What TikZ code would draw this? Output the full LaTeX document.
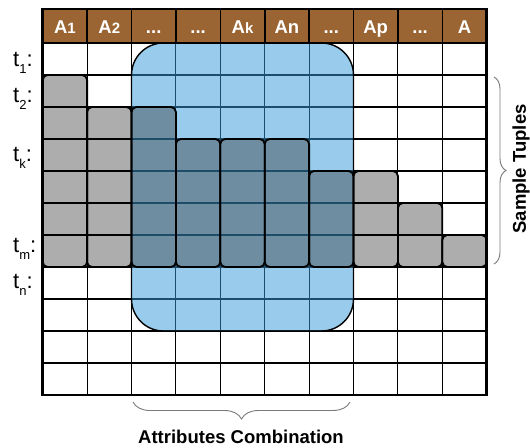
\documentclass[tikz,border=0pt]{standalone}
\usepackage{fontspec}
\setmainfont{Liberation Sans}
\usetikzlibrary{decorations.pathreplacing}
\definecolor{hdr}{HTML}{9A6433}
\definecolor{lblue}{HTML}{99CCEC}
\definecolor{dbline}{HTML}{1E4D6B}
\definecolor{barg}{HTML}{ADADAD}
\definecolor{bard}{HTML}{6F8DA0}
\definecolor{brc}{HTML}{7A7A7A}
\newcommand\smchar[1]{{\fontsize{15bp}{15bp}\selectfont #1}}
\newcommand\tsub[1]{t\raisebox{-7bp}{\fontsize{13bp}{13bp}\selectfont #1}:}
\begin{document}
\begin{tikzpicture}[x=1bp,y=-1bp,
  gridline/.style={line width=1.1bp},
  barbox/.style={rounded corners=5bp},
  hdrtxt/.style={text=white, font=\fontsize{18.5bp}{18.5bp}\selectfont\bfseries, inner sep=0, anchor=base},
  rowlbl/.style={anchor=base west, inner sep=0, font=\fontsize{22bp}{22bp}\selectfont},
  bracestyle/.style={draw=brc, line width=0.9bp, decorate},
  biglbl/.style={font=\fontsize{18.5bp}{18.5bp}\selectfont\bfseries, inner sep=0}]
\useasboundingbox (0,0) rectangle (530,448);
\fill[white] (0,0) rectangle (530,448);
% blue region
\fill[lblue, rounded corners=32bp] (131.5,43) rectangle (353.5,331);
% bar fills
\foreach \c/\t/\f in {1/75/barg,2/107/barg,3/107/bard,4/139/bard,5/139/bard,6/139/bard,7/171/bard,8/171/barg,9/203/barg,10/235/barg}{
  \pgfmathsetmacro\xl{42.7+44.4*(\c-1)}
  \pgfmathsetmacro\xr{42.7+44.4*\c}
  \fill[\f, barbox] (\xl,\t) rectangle (\xr,267);
}
% grid lines
\foreach \j in {1,...,10}{
  \pgfmathsetmacro\yy{43+32*\j}
  \draw[gridline] (42.7,\yy) -- (486.7,\yy);
}
\foreach \i in {1,...,9}{
  \pgfmathsetmacro\xx{42.7+44.4*\i}
  \draw[gridline] (\xx,43) -- (\xx,395);
}
\begin{scope}
  \clip[rounded corners=32bp] (131.5,43) rectangle (353.5,331);
  \foreach \j in {1,...,10}{
    \pgfmathsetmacro\yy{43+32*\j}
    \draw[gridline, dbline] (42.7,\yy) -- (486.7,\yy);
  }
  \foreach \i in {1,...,9}{
    \pgfmathsetmacro\xx{42.7+44.4*\i}
    \draw[gridline, dbline] (\xx,43) -- (\xx,395);
  }
\end{scope}
\draw[line width=1.4bp, rounded corners=32bp] (131.5,43) rectangle (353.5,331);
% bar borders
\foreach \c/\t in {1/75,2/107,3/107,4/139,5/139,6/139,7/171,8/171,9/203,10/235}{
  \pgfmathsetmacro\xl{42.7+44.4*(\c-1)}
  \pgfmathsetmacro\xr{42.7+44.4*\c}
  \draw[line width=1.8bp, barbox] (\xl,\t) rectangle (\xr,267);
}
% header
\fill[hdr] (42.7,9) rectangle (486.7,43);
\foreach \i in {1,...,9}{
  \pgfmathsetmacro\xx{42.7+44.4*\i}
  \draw[line width=1.6bp] (\xx,9) -- (\xx,43);
}
\draw[line width=2bp] (42.7,43) -- (486.7,43);
\draw[line width=2.6bp] (42.7,9) rectangle (486.7,395);
\foreach \c/\txt in {1/{A\smchar{1}},2/{A\smchar{2}},3/{...},4/{...},5/{A\smchar{k}},6/{An},7/{...},8/{Ap},9/{...},10/{A}}{
  \pgfmathsetmacro\xc{42.7+44.4*(\c-0.5)}
  \node[hdrtxt] (h\c) at (\xc,33.5) {\txt};
}
% row labels
\node[rowlbl] (t1) at (13,67) {\tsub{1}};
\node[rowlbl] (t2) at (13,103) {\tsub{2}};
\node[rowlbl] (tk) at (13,162) {\tsub{k}};
\node[rowlbl] (tm) at (13,253) {\tsub{m}};
\node[rowlbl] (tn) at (13,288) {\tsub{n}};
% braces
\coordinate (rb1) at (494,77);
\coordinate (rb2) at (494,264);
\draw[bracestyle, decoration={brace, amplitude=12bp}] (rb1) -- (rb2);
\node[biglbl, rotate=90] (st) at (521,169) {Sample Tuples};
\coordinate (bb1) at (350,402);
\coordinate (bb2) at (133,402);
\draw[bracestyle, decoration={brace, amplitude=17bp}] (bb1) -- (bb2);
\node[biglbl] (ac) at (241,437) {Attributes Combination};
\end{tikzpicture}
\end{document}
